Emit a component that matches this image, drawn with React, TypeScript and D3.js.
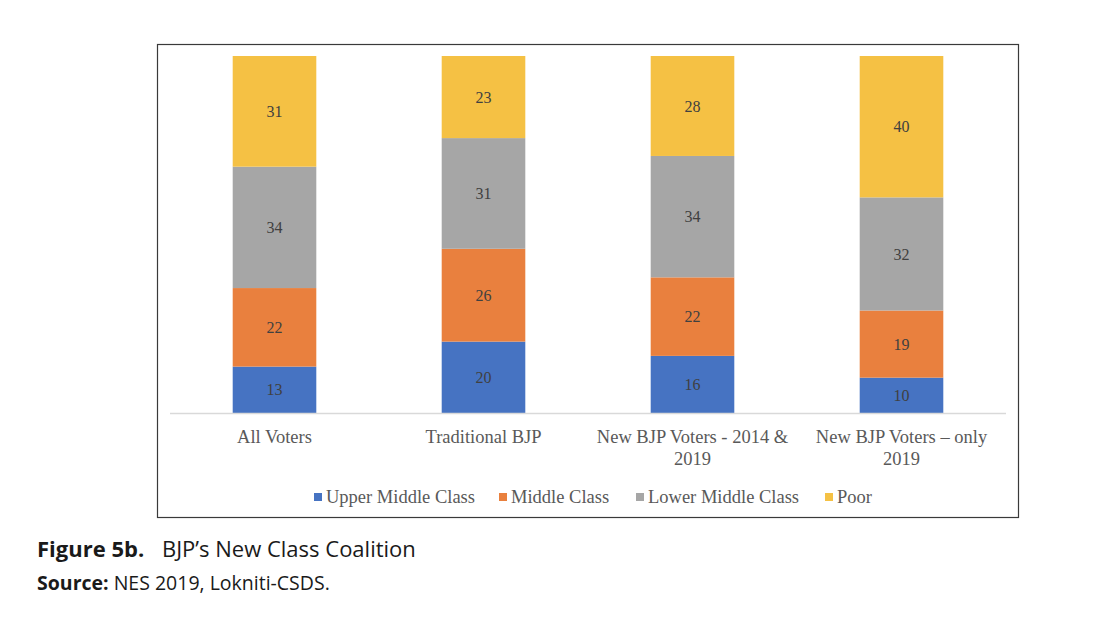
import * as d3 from 'd3';
import * as React from 'react';

const categories = ['All Voters', 'Traditional BJP', 'New BJP Voters - 2014 & 2019', 'New BJP Voters \u2013 only 2019'];
const categoryLines = [['All Voters'], ['Traditional BJP'], ['New BJP Voters - 2014 &', '2019'], ['New BJP Voters \u2013 only', '2019']];
const seriesNames = ['Upper Middle Class', 'Middle Class', 'Lower Middle Class', 'Poor'];
const upperMiddle = [13, 20, 16, 10];
const middle = [22, 26, 22, 19];
const lowerMiddle = [34, 31, 34, 32];
const poor = [31, 23, 28, 40];
const colors = ['#4673c2', '#e9803e', '#a6a6a6', '#f5c144'];

const W = 1104;
const H = 622;
const serif = '"Liberation Serif", "Times New Roman", serif';
const sans = '"Open Sans", Lato, sans-serif';

export default function App() {
  const rows = categories.map((c, i) => ({
    cat: c,
    'Upper Middle Class': upperMiddle[i],
    'Middle Class': middle[i],
    'Lower Middle Class': lowerMiddle[i],
    Poor: poor[i],
  }));
  // 100% stacked, like the original
  const stack = d3.stack<any>().keys(seriesNames).offset(d3.stackOffsetExpand);
  const layers = stack(rows);

  const x = d3.scaleBand<string>().domain(categories).range([170, 1006]).paddingInner(0.6).paddingOuter(0.3);
  const y = d3.scaleLinear().domain([0, 1]).range([413, 56]);

  const legendX = [314, 499, 636, 825];

  return (
    <svg width={W} height={H} style={{ position: 'absolute', left: 0, top: 0, background: '#fff' }}>
      <rect x={157.5} y={44.5} width={861} height={473} fill='#fff' stroke='#3a3a3a' strokeWidth={1.2} />
      {layers.map((layer, li) => (
        <g key={li}>
          {layer.map((d, i) => (
            <g key={i}>
              <rect
                x={x(categories[i])}
                y={y(d[1])}
                width={x.bandwidth()}
                height={y(d[0]) - y(d[1])}
                fill={colors[li]}
              />
              <text
                x={(x(categories[i]) as number) + x.bandwidth() / 2}
                y={(y(d[0]) + y(d[1])) / 2}
                dy='0.35em'
                textAnchor='middle'
                fontFamily={serif}
                fontSize={16}
                fill='#404040'
              >
                {(d.data as any)[seriesNames[li]]}
              </text>
            </g>
          ))}
        </g>
      ))}
      <line x1={170} x2={1006} y1={413.5} y2={413.5} stroke='#d9d9d9' strokeWidth={1.5} />
      {categoryLines.map((lines, i) => (
        <text
          key={i}
          x={(x(categories[i]) as number) + x.bandwidth() / 2}
          y={443}
          textAnchor='middle'
          fontFamily={serif}
          fontSize={18.5}
          fill='#595959'
        >
          {lines.map((l, j) => (
            <tspan key={j} x={(x(categories[i]) as number) + x.bandwidth() / 2} dy={j === 0 ? 0 : 22}>
              {l}
            </tspan>
          ))}
        </text>
      ))}
      {seriesNames.map((s, i) => (
        <g key={s}>
          <rect x={legendX[i]} y={493} width={8} height={8} fill={colors[i]} />
          <text x={legendX[i] + 12} y={503} fontFamily={serif} fontSize={18.5} fill='#595959'>
            {s}
          </text>
        </g>
      ))}
      <text y={557} fontFamily={sans} fontSize={22} fill='#1a1a1a'>
        <tspan x={37} fontWeight='bold'>Figure 5b.</tspan>
        <tspan x={162}>BJP’s New Class Coalition</tspan>
      </text>
      <text x={37} y={590} fontFamily={sans} fontSize={19.5} fill='#1a1a1a'>
        <tspan fontWeight='bold'>Source:</tspan>
        <tspan> NES 2019, Lokniti-CSDS.</tspan>
      </text>
    </svg>
  );
}
